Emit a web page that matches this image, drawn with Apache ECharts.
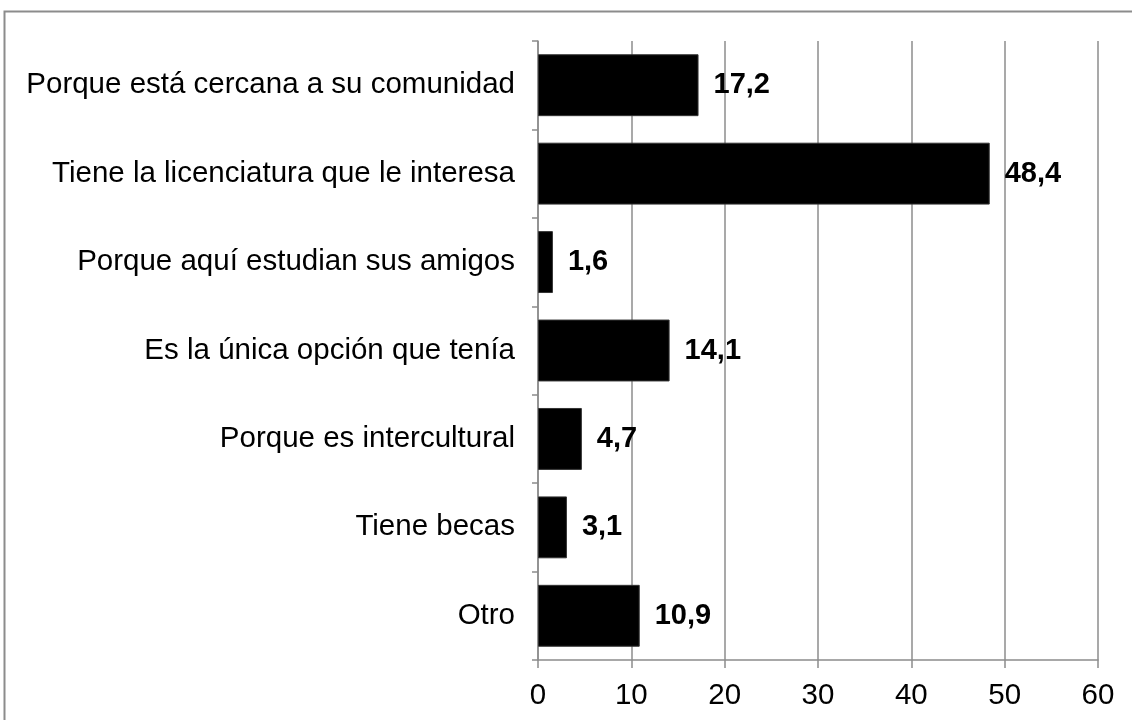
<!DOCTYPE html>
<html>
<head>
<meta charset="utf-8">
<script src="https://cdn.jsdelivr.net/npm/echarts@6/dist/echarts.min.js"></script>
<style>
  html, body { margin: 0; padding: 0; background: #fff; }
  #chart { width: 1132px; height: 720px; }
</style>
</head>
<body>
<div id="chart"></div>
<script>
// categories, top to bottom
const categories = [
  "Porque está cercana a su comunidad",
  "Tiene la licenciatura que le interesa",
  "Porque aquí estudian sus amigos",
  "Es la única opción que tenía",
  "Porque es intercultural",
  "Tiene becas",
  "Otro"
];
const values = [17.2, 48.4, 1.6, 14.1, 4.7, 3.1, 10.9];
const xTicks = [0, 10, 20, 30, 40, 50, 60];

const chart = echarts.init(document.getElementById("chart"));

const option = {
  animation: false,
  backgroundColor: "#fff",
  textStyle: { fontFamily: "Liberation Sans, Arial, sans-serif" },
  // outer frame, runs off the right and bottom edges like the source
  graphic: [
    {
      type: "rect",
      shape: { x: 4.5, y: 11.5, width: 1200, height: 800 },
      style: { fill: "none", stroke: "#8c8c8c", lineWidth: 2 },
      silent: true
    }
  ],
  grid: { left: 538, right: 34, top: 41, bottom: 60 },
  xAxis: {
    type: "value",
    min: xTicks[0],
    max: xTicks[xTicks.length - 1],
    interval: 10,
    axisLine: { show: true, lineStyle: { color: "#8c8c8c", width: 1.5 } },
    axisTick: { show: true, length: 8, lineStyle: { color: "#8c8c8c", width: 1.5 } },
    axisLabel: { color: "#000", fontSize: 29.5, margin: 21 },
    splitLine: { show: true, lineStyle: { color: "#8c8c8c", width: 1.5 } }
  },
  yAxis: {
    type: "category",
    data: categories,
    inverse: true,
    axisLine: { show: true, lineStyle: { color: "#8c8c8c", width: 1.5 } },
    axisTick: { show: true, length: 6, lineStyle: { color: "#8c8c8c", width: 1.5 } },
    axisLabel: { color: "#000", fontSize: 29.5, margin: 23 }
  },
  series: [
    {
      type: "bar",
      data: values,
      barCategoryGap: "30%",
      itemStyle: { color: "#000", borderColor: "#333", borderWidth: 1 },
      label: {
        show: true,
        position: "right",
        distance: 15,
        color: "#000",
        fontSize: 29,
        fontWeight: "bold",
        formatter: (p) => p.value.toFixed(1).replace(".", ",")
      }
    }
  ]
};

chart.setOption(option);
</script>
</body>
</html>
